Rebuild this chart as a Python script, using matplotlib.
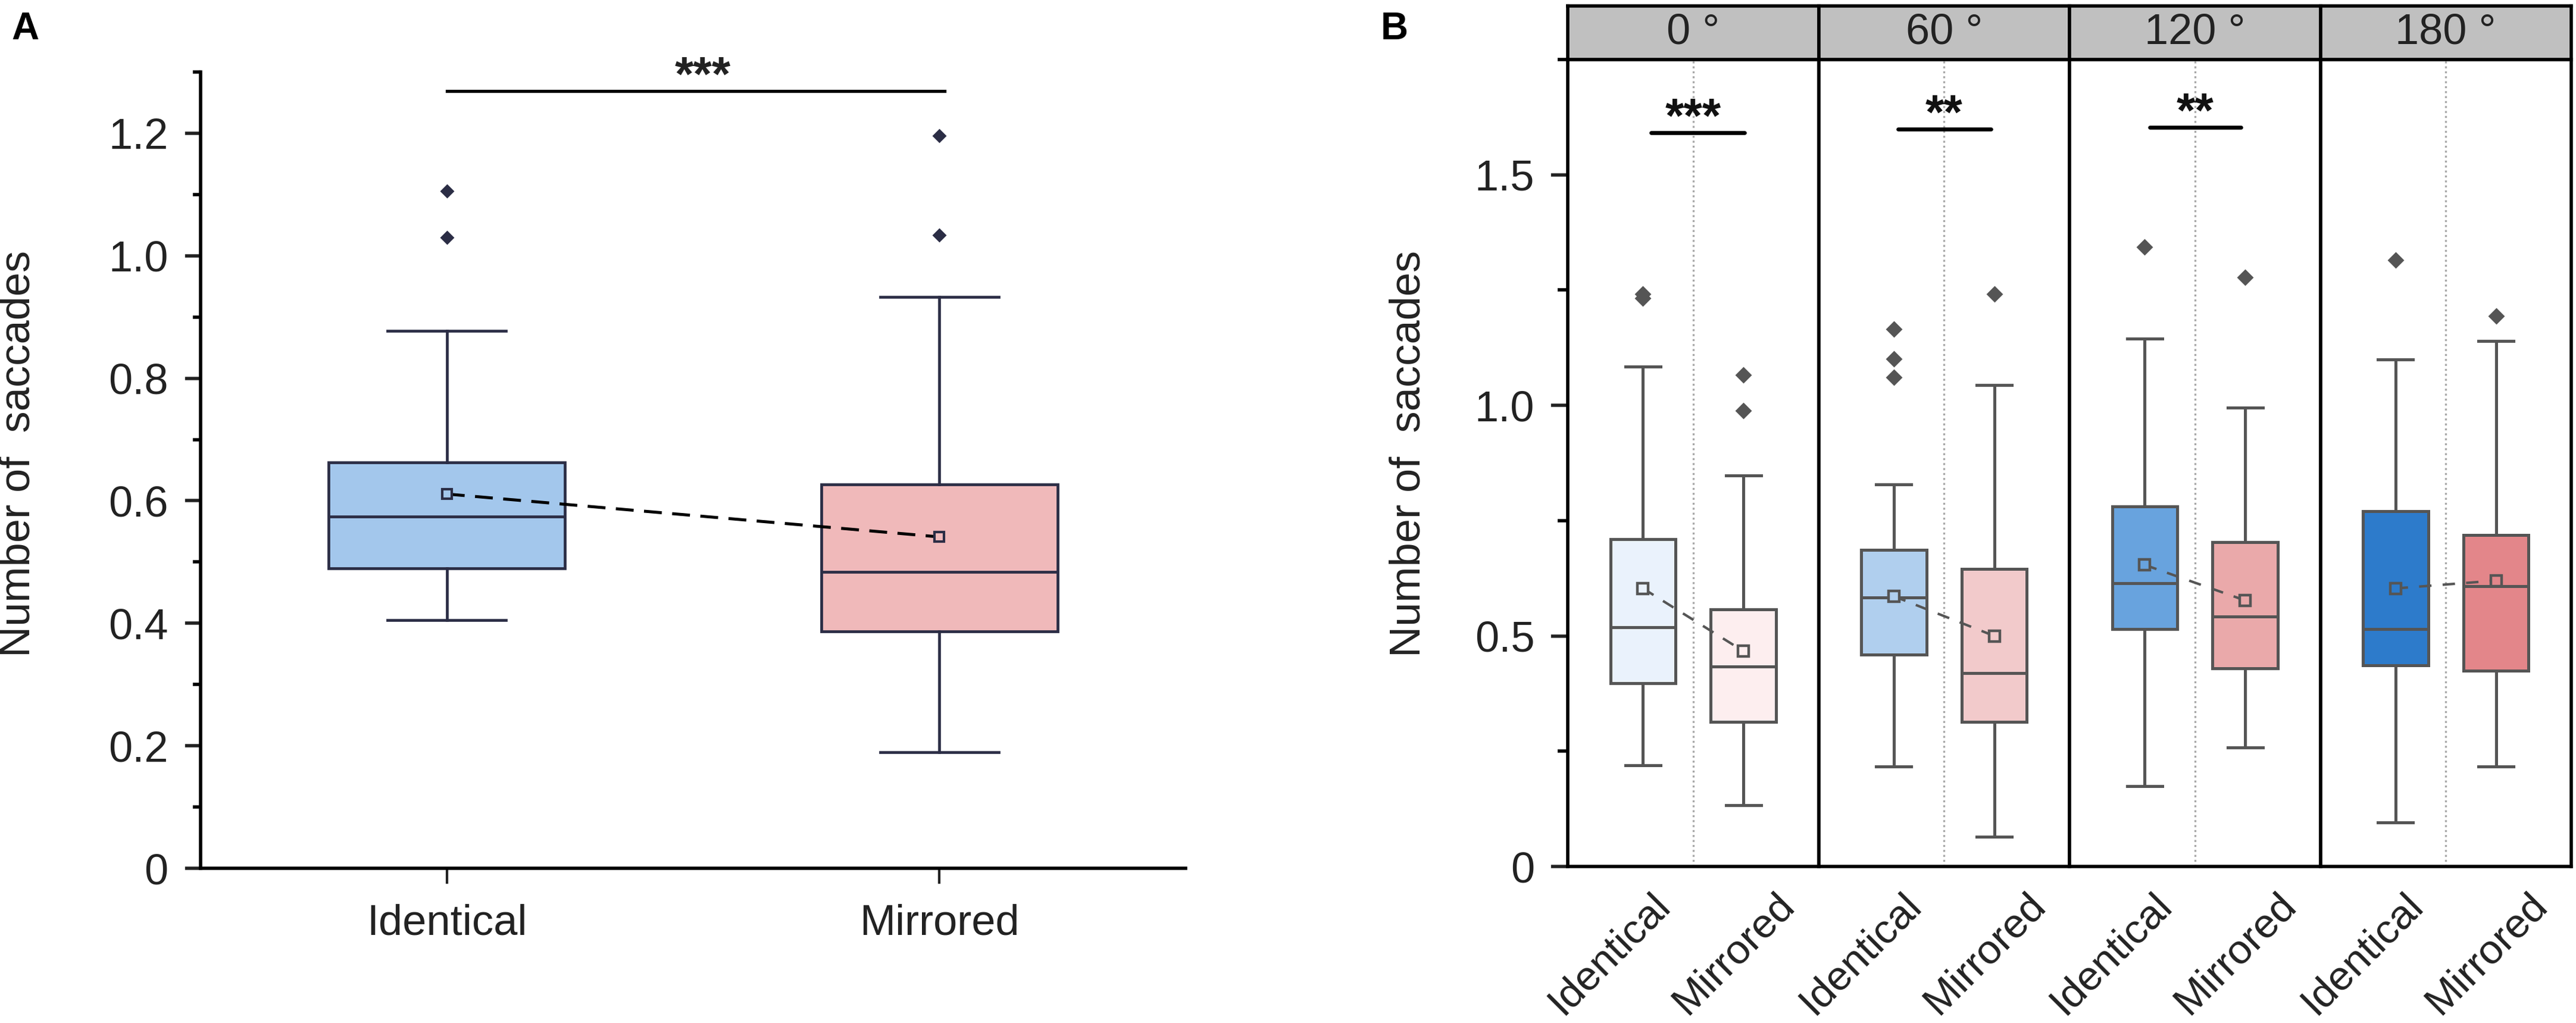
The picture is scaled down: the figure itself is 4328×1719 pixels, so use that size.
import matplotlib.pyplot as plt
from matplotlib.ticker import MultipleLocator
from matplotlib.transforms import ScaledTranslation

plt.rcParams['font.family'] = ['Liberation Sans', 'DejaVu Sans']

conditions = ['Identical', 'Mirrored']

# ---- panel A: all rotations pooled ----
a_q1 = [0.490, 0.387]
a_med = [0.574, 0.484]
a_q3 = [0.663, 0.627]
a_lo = [0.405, 0.189]
a_hi = [0.877, 0.933]
a_mean = [0.611, 0.541]
a_fliers = [[1.030, 1.106], [1.034, 1.196]]
a_colors = ['#a3c7ec', '#f0b9ba']

# ---- panel B: split by rotation angle ----
angles = ['0 °', '60 °', '120 °', '180 °']
b_q1 = [[0.398, 0.314], [0.460, 0.314], [0.515, 0.430], [0.436, 0.425]]
b_med = [[0.519, 0.434], [0.583, 0.420], [0.614, 0.542], [0.515, 0.608]]
b_q3 = [[0.710, 0.558], [0.686, 0.645], [0.781, 0.703], [0.770, 0.719]]
b_lo = [[0.219, 0.133], [0.217, 0.064], [0.174, 0.258], [0.096, 0.217]]
b_hi = [[1.084, 0.848], [0.828, 1.044], [1.145, 0.995], [1.099, 1.139]]
b_mean = [[0.603, 0.467], [0.586, 0.500], [0.654, 0.577], [0.603, 0.620]]
b_fliers = [[[1.232, 1.242], [0.988, 1.066]],
            [[1.061, 1.101, 1.165], [1.241]],
            [[1.344], [1.278]],
            [[1.315], [1.194]]]
b_colors = [['#eaf2fc', '#fdeeef'],
            ['#b0cfee', '#f2cacb'],
            ['#68a3de', '#eaa9aa'],
            ['#2d7bcb', '#e3868a']]
b_sig = ['***', '**', '**', '']
b_sig_y = [1.591, 1.599, 1.603, None]
b_sig_x0 = [1.08, 1.04, 1.05, None]
b_sig_x1 = [2.01, 1.97, 1.96, None]

FS = 26
W, H = 4328, 1719
fig = plt.figure(figsize=(W / 200, H / 200), dpi=200)


def make_stats(q1, med, q3, lo, hi, fliers):
    return [dict(q1=q1[i], med=med[i], q3=q3[i], whislo=lo[i], whishi=hi[i],
                 fliers=fliers[i]) for i in range(len(q1))]


# ================= panel A =================
navy = '#2b2d45'
axA = fig.add_axes([337 / W, 1 - 1459 / H, (1992 - 337) / W, (1459 - 121) / H])
bp = axA.bxp(make_stats(a_q1, a_med, a_q3, a_lo, a_hi, a_fliers),
             positions=[1, 2], widths=0.48, capwidths=0.24, patch_artist=True,
             boxprops=dict(edgecolor=navy, linewidth=1.7),
             medianprops=dict(color=navy, linewidth=1.7),
             whiskerprops=dict(color=navy, linewidth=1.7),
             capprops=dict(color=navy, linewidth=1.7),
             flierprops=dict(marker='D', markersize=5.2, markerfacecolor=navy,
                             markeredgecolor=navy))
for patch, c in zip(bp['boxes'], a_colors):
    patch.set_facecolor(c)

axA.plot([1, 2], a_mean, color='black', lw=1.8, dashes=(6, 3.5), zorder=4)
for x, m, c in zip([1, 2], a_mean, a_colors):
    axA.plot(x, m, marker='s', ms=5.5, mfc=c, mec=navy, mew=1.5, zorder=5)

# significance bar
axA.plot([1, 2.01], [1.269, 1.269], color='black', lw=1.9, clip_on=False)
axA.text(1.52, 1.270, '***', ha='center', va='baseline', fontsize=29,
         fontweight='bold', color='#222222')

axA.set_xlim(0.5, 2.5)
axA.set_ylim(0, 1.3)
axA.set_xticks([1, 2])
axA.set_xticklabels(conditions)
axA.set_yticks([0, 0.2, 0.4, 0.6, 0.8, 1.0, 1.2])
axA.set_yticklabels(['0', '0.2', '0.4', '0.6', '0.8', '1.0', '1.2'])
axA.yaxis.set_minor_locator(MultipleLocator(0.1))
for s in ['top', 'right']:
    axA.spines[s].set_visible(False)
for s in ['left', 'bottom']:
    axA.spines[s].set_linewidth(2)
axA.tick_params(axis='y', which='major', length=9.5, width=2, pad=10,
                labelsize=FS, colors='#222222')
axA.tick_params(axis='y', which='minor', length=4.7, width=2)
axA.tick_params(axis='x', which='major', length=9.5, width=1.5, pad=12,
                labelsize=FS, colors='#222222')

fig.text(31 / W, 1 - 762 / H, 'Number of  saccades', rotation=90, ha='center',
         va='center', fontsize=FS, color='#222222')
fig.text(42 / W, 1 - 49 / H, 'A', ha='center', va='center', fontsize=23,
         fontweight='bold')

# ================= panel B =================
gray = '#555555'
left, right = 2634 / W, 4320 / W
pw = (right - left) / 4
bottom = 1 - 1456 / H
top = 1 - 100 / H
strip_top = 1 - 10 / H

for k in range(4):
    ax = fig.add_axes([left + k * pw, bottom, pw, top - bottom])
    stats = make_stats(b_q1[k], b_med[k], b_q3[k], b_lo[k], b_hi[k], b_fliers[k])
    bp = ax.bxp(stats, positions=[1, 2], widths=0.65, capwidths=0.35,
                patch_artist=True,
                boxprops=dict(edgecolor=gray, linewidth=1.8),
                medianprops=dict(color=gray, linewidth=1.8),
                whiskerprops=dict(color=gray, linewidth=1.8),
                capprops=dict(color=gray, linewidth=1.8),
                flierprops=dict(marker='D', markersize=6, markerfacecolor=gray,
                                markeredgecolor=gray))
    for patch, c in zip(bp['boxes'], b_colors[k]):
        patch.set_facecolor(c)

    ax.axvline(1.5, color='#a8a8a8', lw=1.2, ls=(0, (1, 1.5)), zorder=0)
    ax.plot([1, 2], b_mean[k], color=gray, lw=1.5, dashes=(5, 4.5), zorder=4)
    for x, m, c in zip([1, 2], b_mean[k], b_colors[k]):
        ax.plot(x, m, marker='s', ms=6.5, mfc=c, mec=gray, mew=1.6, zorder=5)

    if b_sig[k]:
        ax.plot([b_sig_x0[k], b_sig_x1[k]], [b_sig_y[k]] * 2, color='black',
                lw=2.4, solid_capstyle='round')
        ax.text(1.5, b_sig_y[k] + 0.002, b_sig[k], ha='center', va='baseline',
                fontsize=29, fontweight='bold', color='#111111')

    ax.set_xlim(0.25, 2.75)
    ax.set_ylim(0, 1.75)
    for s in ax.spines.values():
        s.set_linewidth(2)
    ax.set_xticks([1, 2])
    ax.set_xticklabels(conditions, rotation=45, ha='right', va='baseline',
                       rotation_mode='anchor', fontsize=25, color='#222222')
    ax.tick_params(axis='x', length=0, pad=24.5)
    # labels sit a little right of their tick, as in the original
    for lab, dx in zip(ax.get_xticklabels(), [17.3, 31.7]):
        lab.set_transform(lab.get_transform() +
                          ScaledTranslation(dx / 72, 0, fig.dpi_scale_trans))

    if k == 0:
        ax.set_yticks([0, 0.5, 1.0, 1.5])
        ax.set_yticklabels(['0', '0.5', '1.0', '1.5'])
        ax.yaxis.set_minor_locator(MultipleLocator(0.25))
        ax.tick_params(axis='y', which='major', length=10, width=2, pad=10,
                       labelsize=FS, colors='#222222')
        ax.tick_params(axis='y', which='minor', length=6, width=2)
    else:
        ax.tick_params(axis='y', which='both', left=False, labelleft=False)

    # grey strip with the rotation angle
    sax = fig.add_axes([left + k * pw, top, pw, strip_top - top])
    sax.set_facecolor('#c0c0c0')
    sax.set_xticks([])
    sax.set_yticks([])
    for s in sax.spines.values():
        s.set_linewidth(2)
    sax.text(0.5, 0.5, angles[k], ha='center', va='center', fontsize=FS,
             color='#222222', transform=sax.transAxes)

fig.text(2367 / W, 1 - 762 / H, 'Number of  saccades', rotation=90, ha='center',
         va='center', fontsize=FS, color='#222222')
fig.text(2343 / W, 1 - 49 / H, 'B', ha='center', va='center', fontsize=23,
         fontweight='bold')

fig.savefig('out.png', dpi=200, facecolor='white')
